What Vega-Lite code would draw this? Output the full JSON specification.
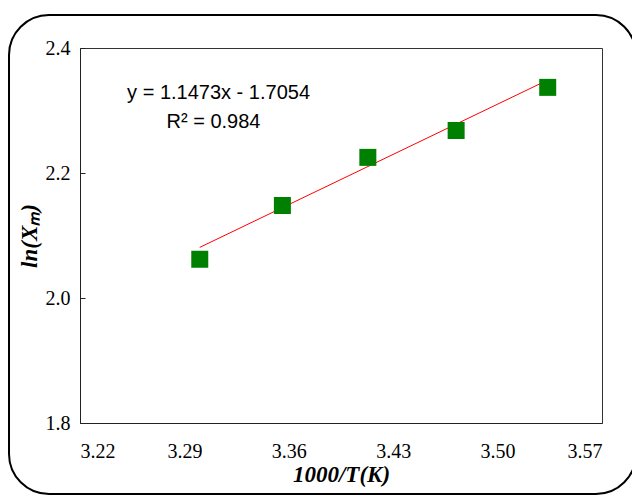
{
  "$schema": "https://vega.github.io/schema/vega-lite/v6.json",
  "autosize": {"type": "none"},
  "width": 522,
  "height": 375,
  "padding": {"left": 80, "top": 48, "right": 30, "bottom": 73},
  "background": "white",
  "config": {
    "view": {"stroke": "#333", "strokeWidth": 1},
    "axis": {
      "grid": false,
      "domainColor": "#222",
      "tickColor": "#222",
      "labelFont": "Liberation Serif",
      "labelFontSize": 20,
      "labelColor": "#000",
      "titleFont": "Liberation Serif",
      "titleFontWeight": "bold",
      "titleFontStyle": "italic",
      "titleColor": "#000"
    }
  },
  "datasets": {
    "points": [
      {"x": 3.3003, "y": 2.062},
      {"x": 3.3557, "y": 2.148},
      {"x": 3.4130, "y": 2.225},
      {"x": 3.4722, "y": 2.268},
      {"x": 3.5336, "y": 2.337}
    ],
    "fit": [
      {"x": 3.3003, "y": 2.0810},
      {"x": 3.5336, "y": 2.3487}
    ]
  },
  "layer": [
    {
      "data": {"values": [{"k": "frame"}]},
      "mark": {"type": "rect", "fill": null, "filled": false, "stroke": "#000", "strokeWidth": 2, "cornerRadius": 40, "clip": false},
      "encoding": {
        "x": {"datum": 3.1724, "type": "quantitative", "scale": {"domain": [3.22, 3.57], "nice": false, "zero": false}},
        "x2": {"datum": 3.5928},
        "y": {"datum": 2.4528, "type": "quantitative", "scale": {"domain": [1.8, 2.4], "nice": false, "zero": false}},
        "y2": {"datum": 1.6864}
      }
    },
    {
      "data": {"name": "fit"},
      "mark": {"type": "line", "color": "#FF0000", "strokeWidth": 1},
      "encoding": {
        "x": {"field": "x", "type": "quantitative",
          "scale": {"domain": [3.22, 3.57], "nice": false, "zero": false},
          "axis": {"values": [3.22, 3.29, 3.36, 3.43, 3.5, 3.57], "format": ".2f", "ticks": false, "labelPadding": 18, "title": "1000/T(K)", "titleFontSize": 23, "titlePadding": 2}},
        "y": {"field": "y", "type": "quantitative",
          "scale": {"domain": [1.8, 2.4], "nice": false, "zero": false},
          "axis": {"values": [1.8, 2.0, 2.2, 2.4], "format": ".1f", "tickSize": -5, "labelPadding": 15, "title": "ln(Xₘ)", "titleFontSize": 23, "titlePadding": 4}}
      }
    },
    {
      "data": {"name": "points"},
      "mark": {"type": "square", "filled": true, "color": "#008000", "size": 289, "opacity": 1},
      "encoding": {
        "x": {"field": "x", "type": "quantitative"},
        "y": {"field": "y", "type": "quantitative"}
      }
    },
    {
      "data": {"values": [{"label": "y = 1.1473x - 1.7054"}]},
      "mark": {"type": "text", "font": "Liberation Sans", "fontSize": 20, "color": "#000", "align": "center", "baseline": "alphabetic"},
      "encoding": {
        "x": {"datum": 3.3129},
        "y": {"datum": 2.3184},
        "text": {"field": "label"}
      }
    },
    {
      "data": {"values": [{"label": "R² = 0.984"}]},
      "mark": {"type": "text", "font": "Liberation Sans", "fontSize": 20, "color": "#000", "align": "center", "baseline": "alphabetic"},
      "encoding": {
        "x": {"datum": 3.3095},
        "y": {"datum": 2.2725},
        "text": {"field": "label"}
      }
    }
  ]
}
